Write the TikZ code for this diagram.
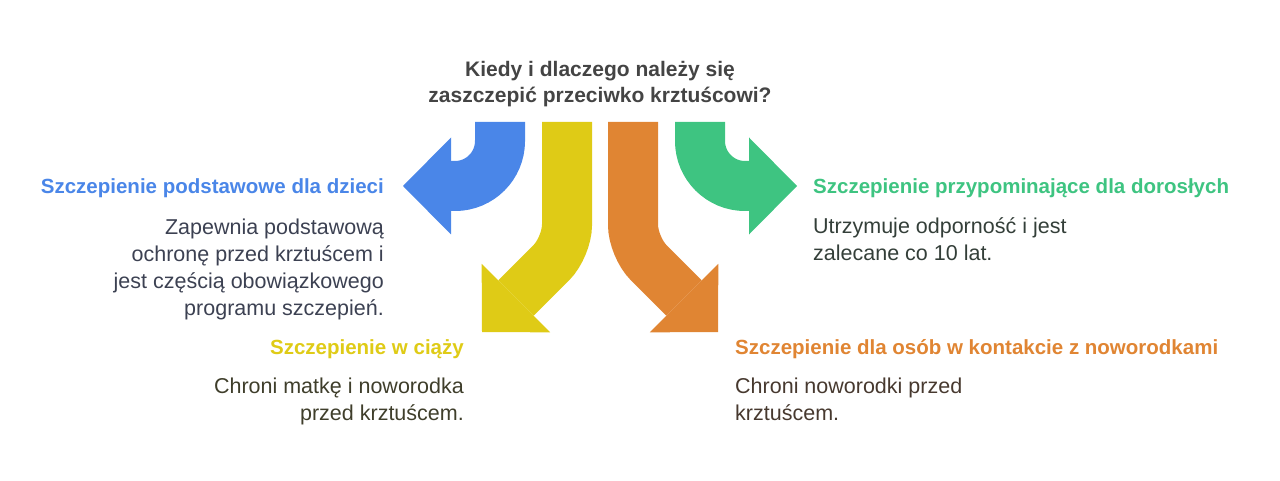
\documentclass[tikz,border=0pt]{standalone}
\usepackage{fontspec}
\setmainfont{Liberation Sans}
\usetikzlibrary{arrows.meta,positioning}
\definecolor{kidsblue}{HTML}{4A86E8}
\definecolor{pregyellow}{HTML}{DFCB16}
\definecolor{contactorange}{HTML}{E08533}
\definecolor{adultsgreen}{HTML}{3EC481}
\definecolor{titlegray}{HTML}{444444}

\begin{document}
\begin{tikzpicture}[x=1pt,y=-1pt,
		band/.style={line width=50pt, rounded corners=#1, -{Triangle[length=48pt,width=97pt,line width=0pt]}},
		head/.style={font=\fontsize{20.5}{27}\selectfont\bfseries, inner sep=0pt},
		body/.style={font=\fontsize{21.5}{27}\selectfont, inner sep=0pt}]
			\useasboundingbox (0,0) rectangle (1280,481);

			% base of a two line node is its last line
			\node[head, font=\fontsize{21}{26}\selectfont\bfseries, text=titlegray, align=center, anchor=base] (title) at (600,103) {Kiedy i dlaczego należy się\\zaszczepić przeciwko krztuścowi?};

			% arrows, start below the title
			\foreach \name/\col/\x/\bx/\by/\ex/\ey/\r in {kidsarr/kidsblue/500/500/186/403/186/45,
					pregarr/pregyellow/567/567/247/482/332/22,
					contactarr/contactorange/633/633/247/718/332/22,
					adultsarr/adultsgreen/700/700/186/797/186/45}{
					\coordinate (\name start) at (\x,122);
					\coordinate (\name bend) at (\bx,\by);
					\coordinate (\name end) at (\ex,\ey);
					\draw[band=\r, \col] (\name start) -- (\name bend) -- (\name end);
				}

			\node[head, text=kidsblue, anchor=base east] (kids) at (384,194) {Szczepienie podstawowe dla dzieci};
			\node[body, text={rgb,255:red,60;green,65;blue,82}, align=right, anchor=base east] (kidsbody) at ([yshift=-121pt]kids.base east) {Zapewnia podstawową\\ochronę przed krztuścem i\\jest częścią obowiązkowego\\programu szczepień.};

			\node[head, text=pregyellow, anchor=base east] (preg) at (464,354) {Szczepienie w ciąży};
			\node[body, text={rgb,255:red,63;green,62;blue,43}, align=right, anchor=base east] (pregbody) at ([yshift=-66pt]preg.base east) {Chroni matkę i noworodka\\przed krztuścem.};

			\node[head, text=adultsgreen, anchor=base west] (adults) at (813,194) {Szczepienie przypominające dla dorosłych};
			\node[body, text={rgb,255:red,52;green,63;blue,57}, align=left, anchor=base west] (adultsbody) at ([yshift=-67pt]adults.base west) {Utrzymuje odporność i jest\\zalecane co 10 lat.};

			\node[head, text=contactorange, anchor=base west] (contact) at (735,354) {Szczepienie dla osób w kontakcie z noworodkami};
			\node[body, text={rgb,255:red,71;green,57;blue,47}, align=left, anchor=base west] (contactbody) at ([yshift=-66pt]contact.base west) {Chroni noworodki przed\\krztuścem.};
		\end{tikzpicture}
\end{document}
